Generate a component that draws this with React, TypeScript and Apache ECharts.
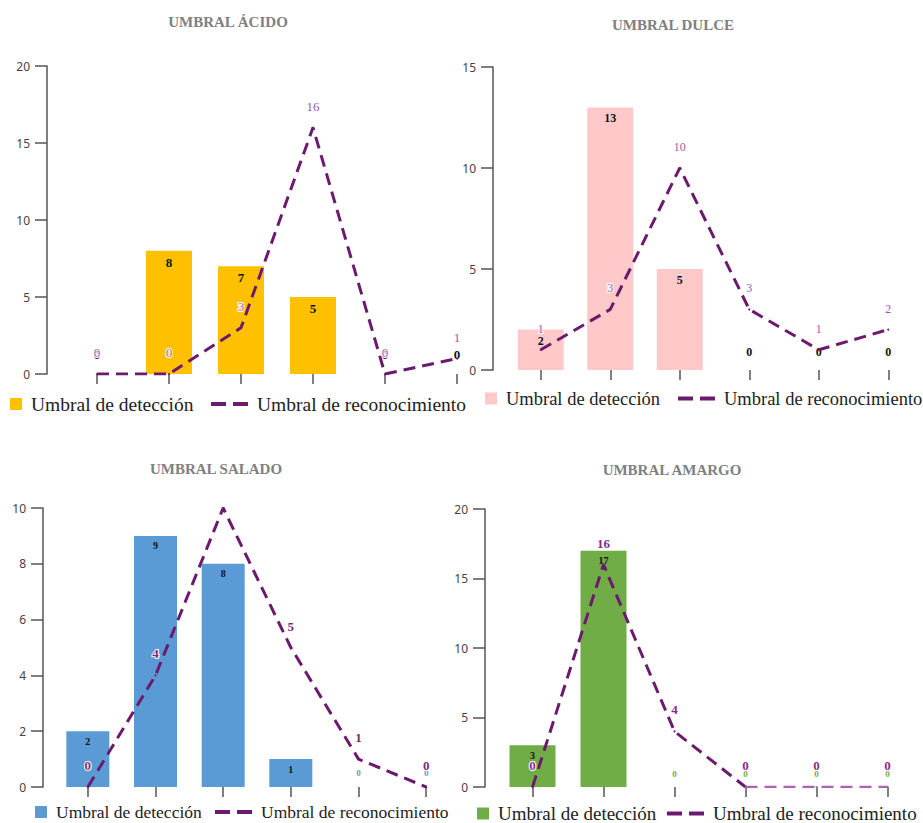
import React, { useEffect, useRef } from 'react';
import * as echarts from 'echarts';

const categories = ['C1', 'C2', 'C3', 'C4', 'C5', 'C6'];

const acidoDeteccion = [0, 8, 7, 5, 0, 0];
const acidoReconocimiento = [0, 0, 3, 16, 0, 1];
const dulceDeteccion = [2, 13, 5, 0, 0, 0];
const dulceReconocimiento = [1, 3, 10, 3, 1, 2];
const saladoDeteccion = [2, 9, 8, 1, 0, 0];
const saladoReconocimiento = [0, 4, 10, 5, 1, 0];
const amargoDeteccion = [3, 17, 0, 0, 0, 0];
const amargoReconocimiento = [0, 16, 4, 0, 0, 0];

const titles = ['UMBRAL ÁCIDO', 'UMBRAL DULCE', 'UMBRAL SALADO', 'UMBRAL AMARGO'];
const yMaxes = [20, 15, 10, 20];
const yIntervals = [5, 5, 2, 5];
const legendDeteccion = 'Umbral de detección';
const legendReconocimiento = 'Umbral de reconocimiento';

const LINE_COLOR = '#6b1a6e';
const LINE_LIGHT = '#a866ac';

const panels = [
  {
    key: 'acido', det: acidoDeteccion, rec: acidoReconocimiento,
    grid: { left: 61, top: 66, width: 432, height: 308 }, yOffset: 14, barWidth: 46,
    color: '#FFC000', titlePos: [228, 22], legendBar: [10, 405], legendLine: [211, 405], legendSize: 19.5,
    barLabelSize: 13, zeroColor: '#111', zeroDist: 13, zeroSize: 13,
    lineLabelColor: '#a05aa6', lineLabelWeight: 'normal', lineLabelSize: 13, hideLineLabel: -1, lightFrom: -1,
  },
  {
    key: 'dulce', det: dulceDeteccion, rec: dulceReconocimiento,
    grid: { left: 506, top: 67, width: 432, height: 303 }, yOffset: 13, barWidth: 46,
    color: '#FFC9C9', titlePos: [673, 25], legendBar: [485, 400], legendLine: [678, 400], legendSize: 18.5,
    barLabelSize: 12, zeroColor: '#111', zeroDist: 12, zeroSize: 12,
    lineLabelColor: '#9a5aa6', lineLabelWeight: 'normal', lineLabelSize: 12, hideLineLabel: -1, lightFrom: -1,
  },
  {
    key: 'salado', det: saladoDeteccion, rec: saladoReconocimiento,
    grid: { left: 54, top: 508, width: 406, height: 279 }, yOffset: 11, barWidth: 43,
    color: '#5B9BD5', titlePos: [216, 469], legendBar: [35, 814], legendLine: [215, 814], legendSize: 17.5,
    barLabelSize: 10, zeroColor: '#5B9BD5', zeroDist: 10, zeroSize: 9,
    lineLabelColor: '#7a2a7c', lineLabelWeight: 'bold', lineLabelSize: 13, hideLineLabel: 2, lightFrom: -1,
  },
  {
    key: 'amargo', det: amargoDeteccion, rec: amargoReconocimiento,
    grid: { left: 497, top: 509, width: 427, height: 278 }, yOffset: 12, barWidth: 46,
    color: '#70AD47', titlePos: [672, 470], legendBar: [477, 815], legendLine: [667, 815], legendSize: 19,
    barLabelSize: 10, zeroColor: '#70AD47', zeroDist: 9, zeroSize: 9,
    lineLabelColor: '#8a2a8c', lineLabelWeight: 'bold', lineLabelSize: 13, hideLineLabel: -1, lightFrom: 3,
  },
];

function buildOption() {
  const grid: any[] = [];
  const xAxis: any[] = [];
  const yAxis: any[] = [];
  const series: any[] = [];
  const legend: any[] = [];
  const graphic: any[] = [];

  panels.forEach((p, i) => {
    grid.push({ ...p.grid, containLabel: false });
    xAxis.push({
      type: 'category', gridIndex: i, data: categories, boundaryGap: true, offset: 3,
      axisLine: { show: false },
      axisTick: { show: true, alignWithLabel: true, length: 10, lineStyle: { color: '#555', width: 1.5 } },
      axisLabel: { show: false }, splitLine: { show: false },
    });
    yAxis.push({
      type: 'value', gridIndex: i, min: 0, max: yMaxes[i], interval: yIntervals[i], offset: p.yOffset,
      axisLine: { show: true, lineStyle: { color: '#555', width: 1.5 } },
      axisTick: { show: true, length: 12, lineStyle: { color: '#555', width: 1.5 } },
      axisLabel: { margin: 17, color: '#444', fontFamily: 'Noto Sans', fontSize: 12 },
      splitLine: { show: false },
    });
    series.push({
      type: 'bar', name: p.key + '-det', xAxisIndex: i, yAxisIndex: i, barWidth: p.barWidth,
      itemStyle: { color: p.color },
      label: {
        show: true, position: 'insideTop', distance: 5, fontFamily: 'Liberation Serif',
        fontWeight: 'bold', fontSize: p.barLabelSize, color: '#111',
      },
      data: p.det.map((v) => (v === 0
        ? { value: v, label: { position: 'top', distance: p.zeroDist, color: p.zeroColor, fontSize: p.zeroSize } }
        : v)),
    });
    const lineLabel = {
      show: true, position: 'top', distance: 14, fontFamily: 'Liberation Serif',
      fontSize: p.lineLabelSize, fontWeight: p.lineLabelWeight, color: p.lineLabelColor,
      textBorderColor: '#fff', textBorderWidth: 2,
    };
    const cut = p.lightFrom >= 0 ? p.lightFrom : p.rec.length - 1;
    series.push({
      type: 'line', name: p.key + '-rec', xAxisIndex: i, yAxisIndex: i, z: 3,
      symbol: 'circle', symbolSize: 2,
      itemStyle: { color: LINE_COLOR },
      lineStyle: { color: LINE_COLOR, width: 3, type: [12, 7] },
      label: lineLabel,
      data: p.rec.map((v, j) => {
        if (j > cut) return '-';
        return j === p.hideLineLabel ? { value: v, label: { show: false } } : v;
      }),
    });
    if (p.lightFrom >= 0) {
      series.push({
        type: 'line', name: p.key + '-rec-light', xAxisIndex: i, yAxisIndex: i, z: 3,
        symbol: 'circle', symbolSize: 2,
        itemStyle: { color: LINE_LIGHT },
        lineStyle: { color: LINE_LIGHT, width: 2.5, type: [12, 7] },
        label: lineLabel,
        data: p.rec.map((v, j) => {
          if (j < cut) return '-';
          return j === cut ? { value: v, label: { show: false } } : v;
        }),
      });
    }
    const textStyle = {
      fontFamily: 'Liberation Serif', fontSize: p.legendSize, color: '#222', padding: [0, 0, 0, 4],
    };
    legend.push({
      left: p.legendBar[0], top: p.legendBar[1] - 11, padding: 0, itemWidth: 12, itemHeight: 12,
      selectedMode: false, data: [{ name: p.key + '-det', icon: 'rect' }],
      formatter: () => legendDeteccion, textStyle,
    });
    legend.push({
      left: p.legendLine[0], top: p.legendLine[1] - 11, padding: 0, itemWidth: 37, itemHeight: 12,
      selectedMode: false,
      data: [{ name: p.key + '-rec', icon: 'path://M0 0H15V4H0ZM22 0H37V4H22Z' }],
      formatter: () => legendReconocimiento, textStyle,
    });
    graphic.push({
      type: 'text', x: p.titlePos[0], y: p.titlePos[1],
      style: {
        text: titles[i], align: 'center', verticalAlign: 'middle',
        font: 'bold 15px "Liberation Serif"', fill: '#808080',
      },
    });
  });

  return { animation: false, backgroundColor: '#fff', grid, xAxis, yAxis, series, legend, graphic };
}

export default function App() {
  const ref = useRef<HTMLDivElement>(null);
  useEffect(() => {
    const chart = echarts.init(ref.current!, null, { renderer: 'svg' });
    chart.setOption(buildOption());
    return () => chart.dispose();
  }, []);
  return <div ref={ref} style={{ position: 'absolute', left: 0, top: 0, width: 923, height: 823 }} />;
}
